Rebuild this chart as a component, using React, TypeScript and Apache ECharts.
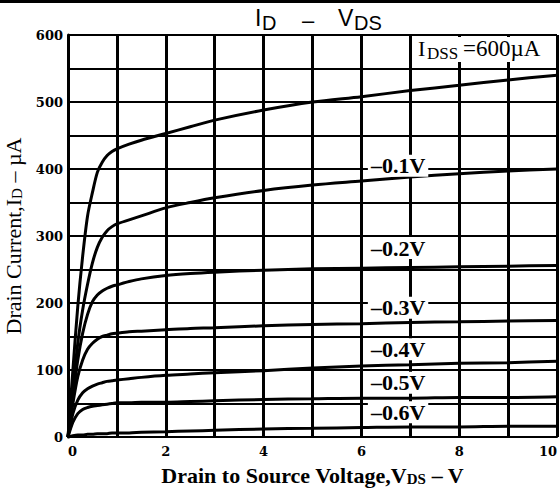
import React, { useEffect, useRef } from "react";
import * as echarts from "echarts";

// Drain-source voltage sample points (V)
const vds = [0, 0.1, 0.2, 0.3, 0.4, 0.5, 0.6, 0.7, 0.8, 0.9, 1, 1.25, 1.5, 2, 2.5, 3, 4, 5, 6, 7, 8, 9, 10];

// Drain current (µA) per gate-source voltage
const id_vgs0 = [0, 100, 195, 270, 330, 365, 395, 410, 420, 426, 430, 437, 443, 453, 463, 473, 488, 500, 508, 517, 525, 533, 540];
const id_vgs01 = [0, 70, 140, 190, 228, 260, 283, 298, 308, 314, 318, 324, 330, 342, 350, 357, 368, 376, 382, 388, 393, 397, 400];
const id_vgs02 = [0, 60, 115, 155, 183, 202, 212, 218, 222, 225, 227, 232, 236, 241, 244, 246, 249, 251, 252, 253, 254, 255, 256];
const id_vgs03 = [0, 50, 90, 115, 131, 140, 146, 150, 152, 154, 155, 157, 158, 160, 162, 163, 166, 168, 169, 171, 172, 173, 174];
const id_vgs04 = [0, 35, 55, 66, 72, 76, 79, 81, 83, 84, 85, 87, 89, 92, 94, 96, 99, 103, 106, 108, 110, 111, 113];
const id_vgs05 = [0, 22, 35, 41, 44, 46, 47, 48, 49, 50, 51, 51, 52, 52, 53, 54, 56, 57, 58, 58, 59, 59, 60];
const id_vgs06 = [0, 2, 3, 3, 4, 4, 5, 5, 5, 6, 6, 6, 7, 8, 9, 10, 12, 13, 14, 15, 15, 16, 16];

const curves = [id_vgs0, id_vgs01, id_vgs02, id_vgs03, id_vgs04, id_vgs05, id_vgs06];

// Curve annotations: label text and anchor in data coordinates
const curveLabels = ["–0.1V", "–0.2V", "–0.3V", "–0.4V", "–0.5V", "–0.6V"];
const curveLabelX = [6.75, 6.75, 6.75, 6.75, 6.75, 6.75];
const curveLabelY = [405, 282, 193, 131, 81, 37];

const SERIF = "'Liberation Serif', 'DejaVu Serif', serif";
const SANS = "'Liberation Sans', Arial, sans-serif";

export default function App() {
  const ref = useRef<HTMLDivElement>(null);

  useEffect(() => {
    if (!ref.current) return;
    const chart = echarts.init(ref.current, null, { renderer: "svg" });

    const lineSeries = curves.map((ys, i) => ({
      type: "line",
      name: "c" + i,
      data: vds.map((x, k) => [x, ys[k]]),
      smooth: 0.3,
      showSymbol: false,
      symbol: "none",
      lineStyle: { color: "#000", width: 3 },
      z: 3,
    }));

    const staticGraphics: any[] = [
      { type: "rect", z: 100, shape: { x: 0, y: 0, width: 560, height: 3 }, style: { fill: "#000" } },
      // title I_D – V_DS
      { type: "text", z: 100, x: 255, y: 6, style: { text: "I", fontFamily: SANS, fontSize: 23, fill: "#000", verticalAlign: "top" } },
      { type: "text", z: 100, x: 262, y: 13, style: { text: "D", fontFamily: SANS, fontSize: 20, fill: "#000", verticalAlign: "top" } },
      { type: "text", z: 100, x: 302, y: 9, style: { text: "–", fontFamily: SANS, fontSize: 22, fill: "#000", verticalAlign: "top" } },
      { type: "text", z: 100, x: 338, y: 6, style: { text: "V", fontFamily: SANS, fontSize: 23, fill: "#000", verticalAlign: "top" } },
      { type: "text", z: 100, x: 354, y: 13, style: { text: "DS", fontFamily: SANS, fontSize: 20, fill: "#000", verticalAlign: "top" } },
      // IDSS box
      { type: "rect", z: 100, shape: { x: 418, y: 37, width: 137, height: 25 }, style: { fill: "#fff" } },
      { type: "text", z: 101, x: 418, y: 37, style: { text: "I", fontFamily: SERIF, fontSize: 22, fill: "#000", verticalAlign: "top" } },
      { type: "text", z: 101, x: 427, y: 45, style: { text: "DSS", fontFamily: SERIF, fontSize: 17, fill: "#000", verticalAlign: "top" } },
      { type: "text", z: 101, x: 463, y: 37, style: { text: "=600µA", fontFamily: SERIF, fontSize: 23, fill: "#000", verticalAlign: "top" } },
    ];

    chart.setOption({
      animation: false,
      backgroundColor: "#fff",
      grid: { left: 68, right: 3, top: 35, bottom: 55, outerBoundsMode: "none", containLabel: false },
      xAxis: {
        type: "value",
        min: 0,
        max: 10,
        interval: 1,
        name: "{t|Drain to Source Voltage,V}{s|DS}{t| – V}",
        nameLocation: "middle",
        nameGap: 27,
        nameTextStyle: {
          rich: {
            t: { fontFamily: SERIF, fontWeight: "bold", fontSize: 22, color: "#000", lineHeight: 22, verticalAlign: "top" },
            s: { fontFamily: SERIF, fontWeight: "bold", fontSize: 15, color: "#000", lineHeight: 16, verticalAlign: "bottom", padding: [9, 0, 0, 0] },
          },
        },
        axisLine: { show: true, lineStyle: { color: "#000", width: 2 } },
        axisTick: { show: false },
        axisLabel: {
          formatter: (v: number) => (v % 2 === 0 ? String(v) : ""),
          fontFamily: "'DejaVu Serif', serif",
          fontWeight: "bold",
          fontSize: 13,
          color: "#000",
          margin: 8,
          alignMinLabel: "left",
          alignMaxLabel: "right",
        },
        splitLine: { show: true, lineStyle: { color: "#000", width: 3 } },
      },
      yAxis: {
        type: "value",
        min: 0,
        max: 600,
        interval: 50,
        name: "{t|Drain Current,I}{s|D}{t| – µA}",
        nameLocation: "middle",
        nameGap: 40,
        nameTextStyle: {
          rich: {
            t: { fontFamily: SERIF, fontSize: 22, color: "#000", lineHeight: 22, verticalAlign: "top" },
            s: { fontFamily: SERIF, fontSize: 15, color: "#000", lineHeight: 16, verticalAlign: "bottom", padding: [9, 0, 0, 0] },
          },
        },
        axisLine: { show: true, lineStyle: { color: "#000", width: 3 } },
        axisTick: { show: false },
        axisLabel: {
          formatter: (v: number) => (v % 100 === 0 ? String(v) : ""),
          fontFamily: "'DejaVu Serif', serif",
          fontWeight: "bold",
          fontSize: 13,
          color: "#000",
          margin: 5,
        },
        splitLine: { show: true, lineStyle: { color: "#000", width: 2 } },
      },
      series: lineSeries,
      graphic: staticGraphics,
    });

    // Curve labels placed through the axis scales
    const labelGraphics = curveLabels.map((t, i) => {
      const p = chart.convertToPixel({ gridIndex: 0 }, [curveLabelX[i], curveLabelY[i]]) as number[];
      return {
        type: "text",
        z: 50,
        x: p[0],
        y: p[1],
        style: {
          text: t,
          fontFamily: SERIF,
          fontWeight: "bold",
          fontSize: 22,
          fill: "#000",
          align: "center",
          verticalAlign: "middle",
          backgroundColor: "#fff",
          padding: [0, 3, 0, 3],
        },
      };
    });
    chart.setOption({ graphic: [...staticGraphics, ...labelGraphics] });

    return () => chart.dispose();
  }, []);

  return <div ref={ref} style={{ width: 560, height: 492, position: "absolute", left: 0, top: 0 }} />;
}
